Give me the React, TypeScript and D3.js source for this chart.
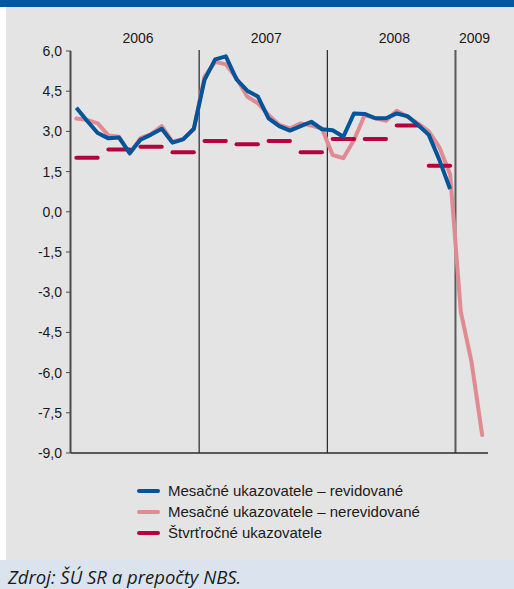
import React from 'react';
import * as d3 from 'd3';

// months from Jan 2006 to Mar 2009
const MONTHS = [
  '2006-01', '2006-02', '2006-03', '2006-04', '2006-05', '2006-06',
  '2006-07', '2006-08', '2006-09', '2006-10', '2006-11', '2006-12',
  '2007-01', '2007-02', '2007-03', '2007-04', '2007-05', '2007-06',
  '2007-07', '2007-08', '2007-09', '2007-10', '2007-11', '2007-12',
  '2008-01', '2008-02', '2008-03', '2008-04', '2008-05', '2008-06',
  '2008-07', '2008-08', '2008-09', '2008-10', '2008-11', '2008-12',
  '2009-01', '2009-02', '2009-03',
];

const YEARS = ['2006', '2007', '2008', '2009'];

// Mesačné ukazovatele – revidované (Jan 2006 .. Dec 2008)
const REVISED = [
  3.88, 3.4, 2.94, 2.74, 2.77, 2.19, 2.69, 2.88, 3.1, 2.58, 2.7, 3.1,
  4.92, 5.69, 5.8, 4.94, 4.52, 4.3, 3.49, 3.2, 3.03, 3.2, 3.36, 3.08,
  3.04, 2.8, 3.67, 3.65, 3.49, 3.49, 3.67, 3.57, 3.24, 2.87, 1.93, 0.85,
];

// Mesačné ukazovatele – nerevidované (Jan 2006 .. Mar 2009)
const UNREVISED = [
  3.48, 3.43, 3.3, 2.85, 2.8, 2.16, 2.75, 2.9, 3.2, 2.62, 2.72, 3.08,
  5.04, 5.6, 5.5, 4.98, 4.3, 4.05, 3.61, 3.24, 3.11, 3.3, 3.22, 3.11,
  2.12, 2.0, 2.68, 3.61, 3.49, 3.4, 3.77, 3.55, 3.3, 3.0, 2.4, 1.4,
  -3.73, -5.59, -8.33,
];

// Štvrťročné ukazovatele (Q1 2006 .. Q4 2008)
const QUARTERLY = [2.02, 2.32, 2.43, 2.22, 2.64, 2.52, 2.64, 2.22, 2.72, 2.72, 3.22, 1.72];

const Y_TICKS = [6, 4.5, 3, 1.5, 0, -1.5, -3, -4.5, -6, -7.5, -9];

const LEGEND = [
  { label: 'Mesačné ukazovatele – revidované', color: '#005499' },
  { label: 'Mesačné ukazovatele – nerevidované', color: '#e08b91' },
  { label: 'Štvrťročné ukazovatele', color: '#b5003d' },
];

const WIDTH = 514;
const HEIGHT = 589;
const FONT = '"Liberation Sans", Arial, sans-serif';

const locale = d3.formatLocale({
  decimal: ',',
  thousands: ' ',
  grouping: [3],
  currency: ['', ''],
  minus: '-',
});
const fmt = locale.format('.1f');

const App: React.FC = () => {
  const x = d3.scaleBand<string>().domain(MONTHS).range([71, 487.5]).paddingInner(0).paddingOuter(0);
  const y = d3.scaleLinear().domain([-9, 6]).range([453, 51]);
  const cx = (m: string) => (x(m) as number) + x.bandwidth() / 2;

  const line = d3
    .line<number>()
    .x((_, i) => cx(MONTHS[i]))
    .y((d) => y(d));

  // year boundaries
  const yearStart = (yr: string) => x(`${yr}-01`) as number;
  const yearEnd = (yr: string) => {
    const ms = MONTHS.filter((m) => m.startsWith(yr));
    return (x(ms[ms.length - 1]) as number) + x.bandwidth();
  };

  return (
    <svg
      width={WIDTH}
      height={HEIGHT}
      style={{ position: 'absolute', left: 0, top: 0, display: 'block' }}
      fontFamily={FONT}
    >
      <rect x={0} y={0} width={WIDTH} height={HEIGHT} fill="#ffffff" />
      <rect x={6} y={0} width={WIDTH - 6} height={560} fill="#e4e4e4" />
      <rect x={0} y={0} width={WIDTH} height={7} fill="#0059a2" />
      <rect x={0} y={560} width={WIDTH} height={HEIGHT - 560} fill="#dbe4ee" />

      {/* year labels */}
      {YEARS.map((yr) => (
        <text
          key={yr}
          x={(yearStart(yr) + yearEnd(yr)) / 2 + 3}
          y={43}
          textAnchor="middle"
          fontSize={14}
          fill="#1a1a1a"
        >
          {yr}
        </text>
      ))}

      {/* y axis */}
      <line x1={70.5} x2={70.5} y1={y(6)} y2={y(-9)} stroke="#4a4a4a" strokeWidth={2} />
      {Y_TICKS.map((t) => (
        <g key={t}>
          <line x1={66} x2={71} y1={y(t)} y2={y(t)} stroke="#4a4a4a" strokeWidth={1} />
          <text x={62} y={y(t)} dy="0.35em" textAnchor="end" fontSize={14} fill="#1a1a1a">
            {fmt(t)}
          </text>
        </g>
      ))}

      {/* year separators */}
      {YEARS.slice(1).map((yr, i) => (
        <line
          key={yr}
          x1={yearStart(yr)}
          x2={yearStart(yr)}
          y1={50}
          y2={y(-9)}
          stroke={i === YEARS.length - 2 ? '#5a5a5a' : '#000'}
          strokeWidth={i === YEARS.length - 2 ? 2 : 1}
        />
      ))}

      {/* x axis */}
      <line x1={71} x2={488} y1={453} y2={453} stroke="#2b2b2b" strokeWidth={1.5} />

      {/* unrevised monthly */}
      <path
        d={line(UNREVISED) || ''}
        fill="none"
        stroke={LEGEND[1].color}
        strokeWidth={4}
        strokeLinejoin="round"
        strokeLinecap="round"
      />

      {/* quarterly dashes */}
      {QUARTERLY.map((v, q) => (
        <line
          key={q}
          x1={cx(MONTHS[q * 3])}
          x2={cx(MONTHS[q * 3 + 2])}
          y1={y(v)}
          y2={y(v)}
          stroke={LEGEND[2].color}
          strokeWidth={4}
          strokeLinecap="round"
        />
      ))}

      {/* revised monthly */}
      <path
        d={line(REVISED) || ''}
        fill="none"
        stroke={LEGEND[0].color}
        strokeWidth={4}
        strokeLinejoin="round"
        strokeLinecap="butt"
      />

      {/* legend */}
      {LEGEND.map((l, i) => (
        <g key={l.label} transform={`translate(138,${491 + i * 21})`}>
          <line x1={1} x2={20} y1={0} y2={0} stroke={l.color} strokeWidth={4} strokeLinecap="round" />
          <text x={30} y={0} dy="0.35em" fontSize={15} fill="#1a1a1a">
            {l.label}
          </text>
        </g>
      ))}

      {/* source */}
      <text x={8} y={584} fontSize={18.5} fontStyle="italic" fill="#1a1a1a" fontFamily='"Open Sans", sans-serif'>
        Zdroj: ŠÚ SR a prepočty NBS.
      </text>
    </svg>
  );
};

export default App;
